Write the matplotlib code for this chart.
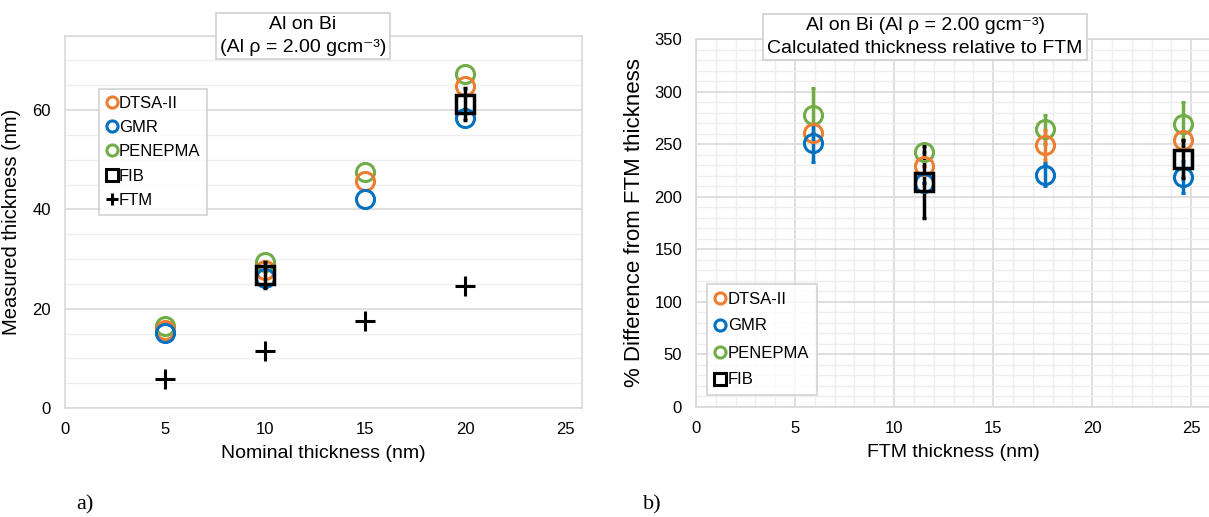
import matplotlib.pyplot as plt
import matplotlib.ticker as mticker
from matplotlib.lines import Line2D

plt.rcParams['font.family'] = ['Liberation Sans', 'DejaVu Sans']

# (a) measured thickness vs nominal thickness
nominal = [5, 10, 15, 20]
dtsa_a = [15.8, 27.8, 45.7, 64.8]
gmr_a = [15.2, 26.2, 42.0, 58.3]
pen_a = [16.6, 29.4, 47.5, 67.2]
fib_nominal = [10, 20]
fib_a = [26.8, 61.2]
fib_a_err = [2.6, 3.2]
ftm = [5.9, 11.5, 17.6, 24.6]

# (b) % difference from FTM thickness
dtsa_b = [261, 229, 249, 254]
dtsa_b_err = [0, 0, 14, 0]
gmr_b = [251, 213, 221, 219]
gmr_b_err = [18, 0, 11, 15]
pen_b = [278, 243, 264, 269]
pen_b_err = [25, 0, 14, 21]
fib_ftm = [11.5, 24.6]
fib_b = [214, 236]
fib_b_err = [34, 18]

ORANGE = '#ED7D31'
BLUE = '#0070C0'
GREEN = '#70AD47'
GRID_MAJ = '#d9d9d9'
GRID_MIN = '#eeeeee'

W, H = 1209, 517
fig = plt.figure(figsize=(W / 100, H / 100), dpi=100)


def style_axes(ax):
    for s in ax.spines.values():
        s.set_color(GRID_MAJ)
        s.set_linewidth(1.2)
    ax.tick_params(which='both', length=0, labelsize=12, colors='black')
    ax.tick_params(axis='y', pad=10)
    ax.tick_params(axis='x', pad=10)
    ax.set_axisbelow(True)


def circles(ax, x, y, err, color):
    ax.errorbar(x, y, yerr=err, fmt='o', ms=13, mfc='none', mec=color, mew=2.2,
                ecolor=color, elinewidth=2.5, capsize=1.5, capthick=2.5)


ax1 = fig.add_axes([65 / W, 1 - 408 / H, 517 / W, 372.5 / H])
style_axes(ax1)
ax1.set_xlim(0, 25.85)
ax1.set_ylim(0, 75)
ax1.xaxis.set_major_locator(mticker.MultipleLocator(5))
ax1.yaxis.set_major_locator(mticker.MultipleLocator(20))
ax1.yaxis.set_minor_locator(mticker.MultipleLocator(5))
ax1.grid(axis='y', which='major', color=GRID_MAJ, lw=1.2)
ax1.grid(axis='y', which='minor', color=GRID_MIN, lw=1.0)

ax1.plot(nominal, pen_a, 'o', ms=13, mfc='none', mec=GREEN, mew=2.2)
ax1.plot(nominal, dtsa_a, 'o', ms=13, mfc='none', mec=ORANGE, mew=2.2)
ax1.plot(nominal, gmr_a, 'o', ms=13, mfc='none', mec=BLUE, mew=2.2)
ax1.errorbar(fib_nominal, fib_a, yerr=fib_a_err, fmt='s', ms=13, mfc='none',
             mec='black', mew=2.5, ecolor='black', elinewidth=2.5,
             capsize=1.5, capthick=2.5)
ax1.plot(nominal, ftm, '+', ms=15, mec='black', mew=2.2)

ax1.set_xlabel('Nominal thickness (nm)', fontsize=14, labelpad=6)
ax1.set_ylabel('Measured thickness (nm)', fontsize=14.5, labelpad=8)

leg_a = [
    Line2D([], [], ls='none', marker='o', ms=8, mfc='none', mec=ORANGE, mew=2.2, label='DTSA-II'),
    Line2D([], [], ls='none', marker='o', ms=8, mfc='none', mec=BLUE, mew=2.2, label='GMR'),
    Line2D([], [], ls='none', marker='o', ms=8, mfc='none', mec=GREEN, mew=2.2, label='PENEPMA'),
    Line2D([], [], ls='none', marker='s', ms=8, mfc='none', mec='black', mew=2.2, label='FIB'),
    Line2D([], [], ls='none', marker='+', ms=9, mec='black', mew=2.2, label='FTM'),
]
lg1 = fig.legend(handles=leg_a, loc='upper left', bbox_to_anchor=(99 / W, 1 - 89 / H),
                 fontsize=12, frameon=True, fancybox=False, edgecolor='#c8c8c8',
                 handlelength=0.7, handletextpad=0.1, labelspacing=0.56,
                 borderpad=0.4, borderaxespad=0)
lg1.get_frame().set_linewidth(1.2)

fig.text(303 / W, 1 - 36 / H, 'Al on Bi\n(Al ρ = 2.00 gcm⁻³)', ha='center',
         va='center', fontsize=14, linespacing=1.4,
         bbox=dict(boxstyle='square,pad=0.2', facecolor='white', edgecolor='#d0d0d0', lw=1.2))

ax2 = fig.add_axes([696 / W, 1 - 407 / H, 515 / W, 368 / H])
style_axes(ax2)
ax2.set_xlim(0, 26)
ax2.set_ylim(0, 350)
ax2.xaxis.set_major_locator(mticker.MultipleLocator(5))
ax2.xaxis.set_minor_locator(mticker.MultipleLocator(1))
ax2.yaxis.set_major_locator(mticker.MultipleLocator(50))
ax2.yaxis.set_minor_locator(mticker.MultipleLocator(10))
ax2.grid(which='major', color=GRID_MAJ, lw=1.2)
ax2.grid(which='minor', color=GRID_MIN, lw=1.0)

circles(ax2, ftm, pen_b, pen_b_err, GREEN)
circles(ax2, ftm, dtsa_b, dtsa_b_err, ORANGE)
circles(ax2, ftm, gmr_b, gmr_b_err, BLUE)
ax2.errorbar(fib_ftm, fib_b, yerr=fib_b_err, fmt='s', ms=13, mfc='none',
             mec='black', mew=2.5, ecolor='black', elinewidth=2.5,
             capsize=1.5, capthick=2.5)

ax2.set_xlabel('FTM thickness (nm)', fontsize=14, labelpad=6)
ax2.set_ylabel('% Difference from FTM thickness', fontsize=16, labelpad=7)

lg2 = fig.legend(handles=leg_a[:4], loc='upper left', bbox_to_anchor=(707 / W, 1 - 284 / H),
                 fontsize=12, frameon=True, fancybox=False, edgecolor='#c8c8c8',
                 handlelength=0.7, handletextpad=0.1, labelspacing=0.72,
                 borderpad=0.45, borderaxespad=0)
lg2.get_frame().set_linewidth(1.2)

fig.text(925 / W, 1 - 37 / H, 'Al on Bi (Al ρ = 2.00 gcm⁻³)\nCalculated thickness relative to FTM',
         ha='center', va='center', fontsize=14, linespacing=1.4,
         bbox=dict(boxstyle='square,pad=0.2', facecolor='white', edgecolor='#d0d0d0', lw=1.2))

fig.text(85 / W, 1 - 505 / H, 'a)', family='Liberation Serif', fontsize=16, ha='center', va='center')
fig.text(652 / W, 1 - 505 / H, 'b)', family='Liberation Serif', fontsize=16, ha='center', va='center')

fig.savefig('out.png', dpi=100)
